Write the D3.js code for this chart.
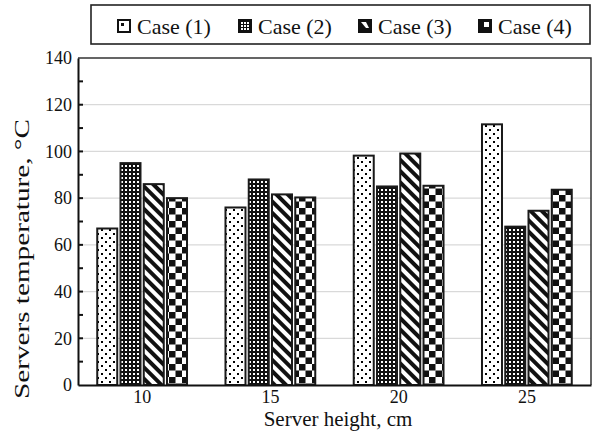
<!DOCTYPE html>
<html><head><meta charset="utf-8">
<script src="https://cdn.jsdelivr.net/npm/d3@7"></script>
<style>
body{margin:0;background:#fff}
svg{display:block}
svg text{font-family:"Liberation Serif","Times New Roman",Tinos,serif !important;}
</style>
</head><body>
<script>
const categories = ["10","15","20","25"];
const caseNames = ["Case (1)","Case (2)","Case (3)","Case (4)"];
const case1 = [67, 76, 98.2, 111.6];
const case2 = [95, 88, 85, 67.8];
const case3 = [86, 81.6, 99.1, 74.6];
const case4 = [80, 80.3, 85.3, 83.6];
const yTicks = [0,20,40,60,80,100,120,140];
const series = [case1, case2, case3, case4];

(function(){
const W = 597, H = 441;
const svg = d3.select("body").append("svg").attr("width", W).attr("height", H);
const defs = svg.append("defs");

// patterns
const p1 = defs.append("pattern").attr("id","p0").attr("patternUnits","userSpaceOnUse").attr("width",8).attr("height",8);
p1.append("rect").attr("width",8).attr("height",8).attr("fill","#fff");
p1.append("rect").attr("x",1).attr("y",1).attr("width",2).attr("height",2).attr("fill","#000");
p1.append("rect").attr("x",5).attr("y",5).attr("width",2).attr("height",2).attr("fill","#000");

const p2 = defs.append("pattern").attr("id","p1").attr("patternUnits","userSpaceOnUse").attr("width",4).attr("height",4);
p2.append("rect").attr("width",4).attr("height",4).attr("fill","#111");
p2.append("rect").attr("x",1).attr("y",1).attr("width",2).attr("height",2).attr("fill","#fff");

const p3 = defs.append("pattern").attr("id","p2").attr("patternUnits","userSpaceOnUse").attr("width",8).attr("height",8)
  .attr("patternTransform","rotate(-45)");
p3.append("rect").attr("width",8).attr("height",8).attr("fill","#fff");
p3.append("rect").attr("width",4).attr("height",8).attr("fill","#111");

const p4 = defs.append("pattern").attr("id","p3").attr("patternUnits","userSpaceOnUse").attr("width",13).attr("height",13);
p4.append("rect").attr("width",13).attr("height",13).attr("fill","#fff");
p4.append("rect").attr("width",6.5).attr("height",6.5).attr("fill","#111");
p4.append("rect").attr("x",6.5).attr("y",6.5).attr("width",6.5).attr("height",6.5).attr("fill","#111");

const pl = 78, pr = 591, pt = 58, pb = 385;
const x0 = d3.scaleBand().domain(categories).range([pl, pr]).paddingInner(0.3).paddingOuter(0.15);
const x1 = d3.scaleBand().domain(d3.range(4)).range([0, x0.bandwidth()]).paddingInner(0.14);
const y = d3.scaleLinear().domain([0,140]).range([pb, pt]);

// grid
svg.append("g").selectAll("line").data(yTicks.filter(d => d > 0 && d < 140)).join("line")
  .attr("x1", pl).attr("x2", pr).attr("y1", d => y(d)).attr("y2", d => y(d))
  .attr("stroke", "#d9d9d9").attr("stroke-width", 1.2);

// frame top/right
svg.append("path").attr("d", `M${pl},${pt}H${pr}V${pb}`).attr("fill","none").attr("stroke","#333").attr("stroke-width",1.5);

// bars
const g = svg.append("g");
categories.forEach((c, i) => {
  series.forEach((s, j) => {
    g.append("rect")
      .attr("x", x0(c) + x1(j)).attr("width", x1.bandwidth())
      .attr("y", y(s[i])).attr("height", y(0) - y(s[i]))
      .attr("fill", `url(#p${j})`).attr("stroke", "#1a1a1a").attr("stroke-width", 2);
  });
});

// y axis
const yAxis = d3.axisLeft(y).tickValues(yTicks).tickSize(0).tickPadding(6);
const ya = svg.append("g").attr("transform", `translate(${pl},0)`).call(yAxis);
ya.attr("font-family", null).attr("font-size", null);
ya.select(".domain").attr("stroke","#111").attr("stroke-width",2);
ya.selectAll("text").attr("font-size", 18).attr("fill","#111");
// minor inward ticks
svg.append("g").selectAll("line").data(d3.range(10,140,10)).join("line")
  .attr("x1", pl).attr("x2", pl+5).attr("y1", d => y(d)).attr("y2", d => y(d))
  .attr("stroke","#111").attr("stroke-width",2);

// x axis
const xAxis = d3.axisBottom(x0).tickSize(0).tickPadding(5);
const xa = svg.append("g").attr("transform", `translate(0,${pb})`).call(xAxis);
xa.attr("font-family", null).attr("font-size", null);
xa.select(".domain").attr("stroke","#111").attr("stroke-width",2);
xa.selectAll("text").attr("font-size", 18).attr("fill","#111");

// axis titles
svg.append("text").attr("x", 338).attr("y", 426).attr("text-anchor","middle")
  .attr("font-size", 21).attr("fill","#111").text("Server height, cm");
svg.append("text").attr("transform", `translate(29,259) rotate(-90)`).attr("text-anchor","middle")
  .attr("textLength", 280).attr("lengthAdjust", "spacingAndGlyphs")
  .attr("font-size", 21).attr("fill","#111").text("Servers temperature, °C");

// legend
svg.append("rect").attr("x",91).attr("y",5).attr("width",499).attr("height",39)
  .attr("fill","#fff").attr("stroke","#222").attr("stroke-width",1.6);
const legX = [117, 238, 358, 478];
const lg = svg.append("g");
caseNames.forEach((n, j) => {
  const ix = legX[j], iy = 19;
  const it = lg.append("g");
  it.append("rect").attr("x", ix+1).attr("y", iy+1).attr("width", 12).attr("height", 12)
    .attr("fill", j === 0 ? "#fff" : "#111").attr("stroke","#111").attr("stroke-width",2);
  if (j === 0) it.append("rect").attr("x", ix+4).attr("y", iy+4).attr("width",3).attr("height",3).attr("fill","#111");
  if (j === 1) {
    for (let a = 0; a < 3; a++) for (let b = 0; b < 3; b++)
      it.append("rect").attr("x", ix+3+a*3).attr("y", iy+3+b*3).attr("width",2).attr("height",2).attr("fill","#fff");
  }
  if (j === 2) it.append("path").attr("d", `M${ix+3},${iy+3}H${ix+8}L${ix+11},${iy+9}H${ix+8}Z`).attr("fill","#fff");
  if (j === 3) it.append("rect").attr("x", ix+6).attr("y", iy+3).attr("width",5).attr("height",5).attr("fill","#fff");
  lg.append("text").attr("x", ix+20).attr("y", 34).attr("font-size", 22)
    .attr("fill","#111").text(n);
});
})();
</script>
</body></html>
